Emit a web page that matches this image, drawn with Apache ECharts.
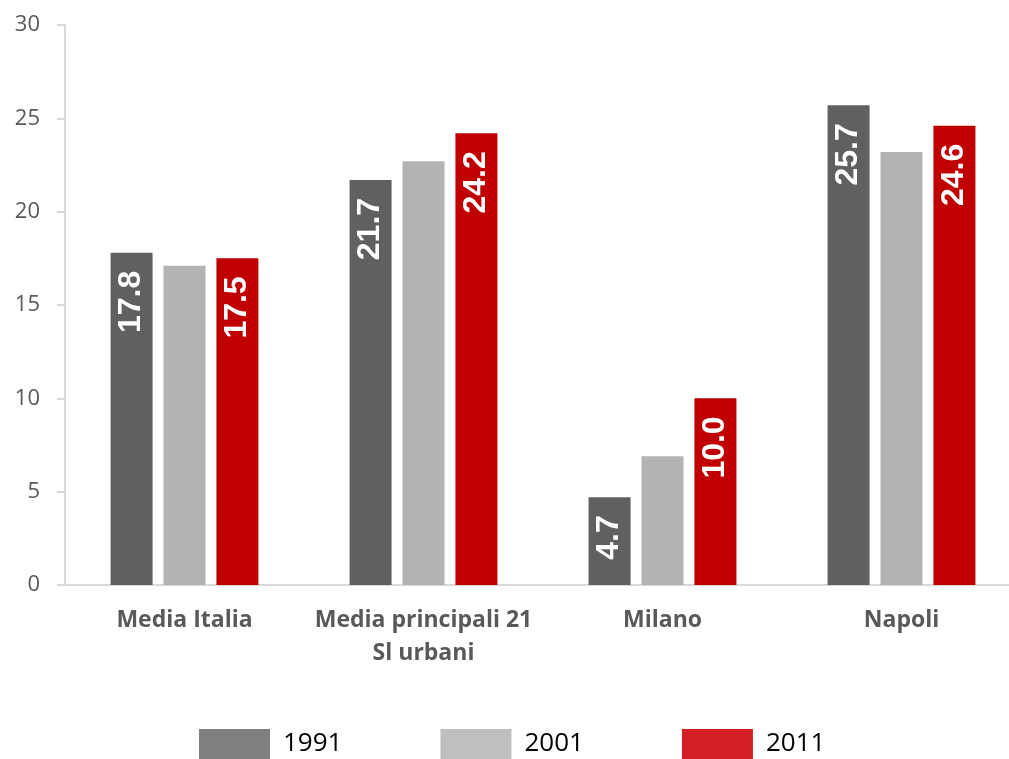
<!DOCTYPE html>
<html>
<head>
<meta charset="utf-8">
<script src="https://cdn.jsdelivr.net/npm/echarts@6/dist/echarts.min.js"></script>
<style>html,body{margin:0;padding:0;background:#fff;overflow:hidden}#c{width:1021px;height:759px}</style>
</head>
<body>
<div id="c"></div>
<script>
const categories = ['Media Italia', 'Media principali 21\nSl urbani', 'Milano', 'Napoli'];
const seriesNames = ['1991', '2001', '2011'];
const values1991 = [17.8, 21.7, 4.7, 25.7];
const values2001 = [17.1, 22.7, 6.9, 23.2];
const values2011 = [17.5, 24.2, 10.0, 24.6];
const yTicks = [0, 5, 10, 15, 20, 25, 30];

const barColors = ['#606060', '#b3b3b3', '#c00000'];
const legendColors = ['#7f7f7f', '#bfbfbf', '#d41f26'];
const showLabel = [true, false, true];
const allValues = [values1991, values2001, values2011];

const chart = echarts.init(document.getElementById('c'), null, {renderer: 'canvas'});
chart.setOption({
  animation: false,
  backgroundColor: '#ffffff',
  grid: {left: 65, top: 25, right: 0, bottom: 174, containLabel: false},
  legend: {
    bottom: -5,
    left: 194,
    itemWidth: 71,
    itemHeight: 30,
    itemGap: 98,
    icon: 'rect',
    textStyle: {fontFamily: 'Open Sans', fontSize: 26, color: '#000000', padding: [0, 0, 0, 8]},
    data: seriesNames.map((n, i) => ({name: n, itemStyle: {color: legendColors[i]}}))
  },
  xAxis: {
    type: 'category',
    data: categories,
    axisLine: {show: true, lineStyle: {color: '#d9d9d9', width: 2}},
    axisTick: {show: false},
    axisLabel: {
      interval: 0,
      margin: 19,
      fontFamily: 'Open Sans',
      fontWeight: 'bold',
      fontSize: 23,
      lineHeight: 33,
      color: '#595959'
    }
  },
  yAxis: {
    type: 'value',
    min: yTicks[0],
    max: yTicks[yTicks.length - 1],
    interval: 5,
    axisLine: {show: true, lineStyle: {color: '#d9d9d9', width: 2}},
    axisTick: {show: true, length: 8, lineStyle: {color: '#d9d9d9', width: 2}},
    splitLine: {show: false},
    axisLabel: {margin: 25, fontFamily: 'Open Sans', fontSize: 22, color: '#595959'}
  },
  series: seriesNames.map((n, i) => ({
    name: n,
    type: 'bar',
    data: allValues[i],
    barWidth: 42,
    barGap: '26%',
    itemStyle: {color: barColors[i]},
    label: {
      show: showLabel[i],
      position: 'insideTop',
      rotate: 90,
      align: 'right',
      verticalAlign: 'middle',
      distance: 18,
      fontFamily: 'Liberation Sans',
      fontWeight: 'bold',
      fontSize: 32,
      color: '#ffffff',
      formatter: p => p.value.toFixed(1)
    }
  }))
});
</script>
</body>
</html>
